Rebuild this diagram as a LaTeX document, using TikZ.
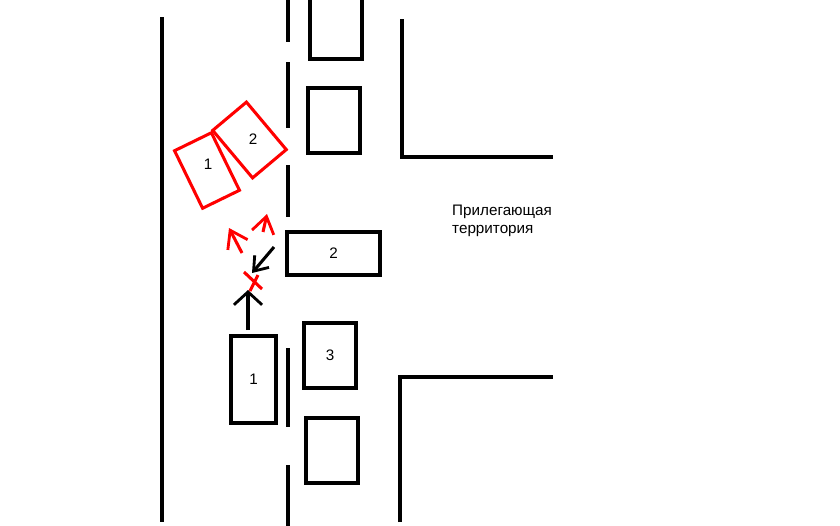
\documentclass[tikz,border=0pt]{standalone}
\usepackage{fontspec}
\setmainfont{Liberation Sans}
\usetikzlibrary{arrows.meta, positioning}
\newlength\px
\setlength\px{0.03cm}
\tikzset{road/.style={line width=2.6pt},
	car/.style={draw, line width=2.6pt, inner sep=0pt, font=\fontsize{13}{15}\selectfont},
	wreck/.style={car, red},
	move/.style={line width=2.6pt, -{Straight Barb[length=11pt, width=16pt, line width=2.4pt]}},
	after/.style={move, red, -{Straight Barb[length=14pt, width=19pt, line width=2.4pt]}},
	hit/.style={line width=2.6pt, red}}

\begin{document}
\begin{tikzpicture}[x=0.03cm, y=-0.03cm]
	\useasboundingbox (0,0) rectangle (840,525);
	\draw [road] (162,17) -- (162,522);
	\draw [road] (402,19) -- (402,157) -- (553,157);
	\draw [road] (400,522) -- (400,377) -- (553,377);
	\foreach \a/\b in {-5/42, 62/128, 165/217, 348/427, 465/530}
		\draw [road] (288,\a) -- (288,\b);
	\node [car, minimum width=52\px, minimum height=75\px] (park1) at (336,21.5) {};
	\node [car, minimum width=52\px, minimum height=65\px] (park2) at (334,120.5) {};
	\node [car, minimum width=93\px, minimum height=43\px] (car2) at (333.5,253.5) {2};
	\node [car, minimum width=52\px, minimum height=65\px] (car3) at (330,355.5) {3};
	\node [car, minimum width=52\px, minimum height=65\px] (park3) at (332,450.5) {};
	\node [car, minimum width=45\px, minimum height=87\px] (car1) at (253.5,379.5) {1};
	\node [wreck, minimum width=41\px, minimum height=64\px, rotate=26] (wreck1) at (207,170.5) {};
	\node [wreck, minimum width=44\px, minimum height=62\px, rotate=40] (wreck2) at (249.5,140) {};
	\node [font=\fontsize{13}{15}\selectfont, inner sep=0pt] (num1) at (208,164) {1};
	\node [font=\fontsize{13}{15}\selectfont, inner sep=0pt] (num2) at (253,139) {2};
	\coordinate (p1) at (248,330);
	\coordinate (q1) at (248,290);
	\coordinate (p2) at (274,247);
	\coordinate (q2) at (252,273);
	\coordinate (p3) at (242,253);
	\coordinate (q3) at (229,228);
	\coordinate (p4) at (263,232);
	\coordinate (q4) at (267,214);
	\draw [move, -{Straight Barb[length=11pt, width=24pt, line width=2.4pt]}] (p1) -- (q1);
	\draw [move] (p2) -- (q2);
	\draw [after] (p3) -- (q3);
	\draw [after] (p4) -- (q4);
	\draw [hit] (244,272) -- (262,289) (250,291) -- (258,275);
	\node [anchor=north west, align=left, inner sep=0pt, font=\fontsize{13}{15}\selectfont] (zone) at (452,205) {Прилегающая\\территория};
\end{tikzpicture}
\end{document}
